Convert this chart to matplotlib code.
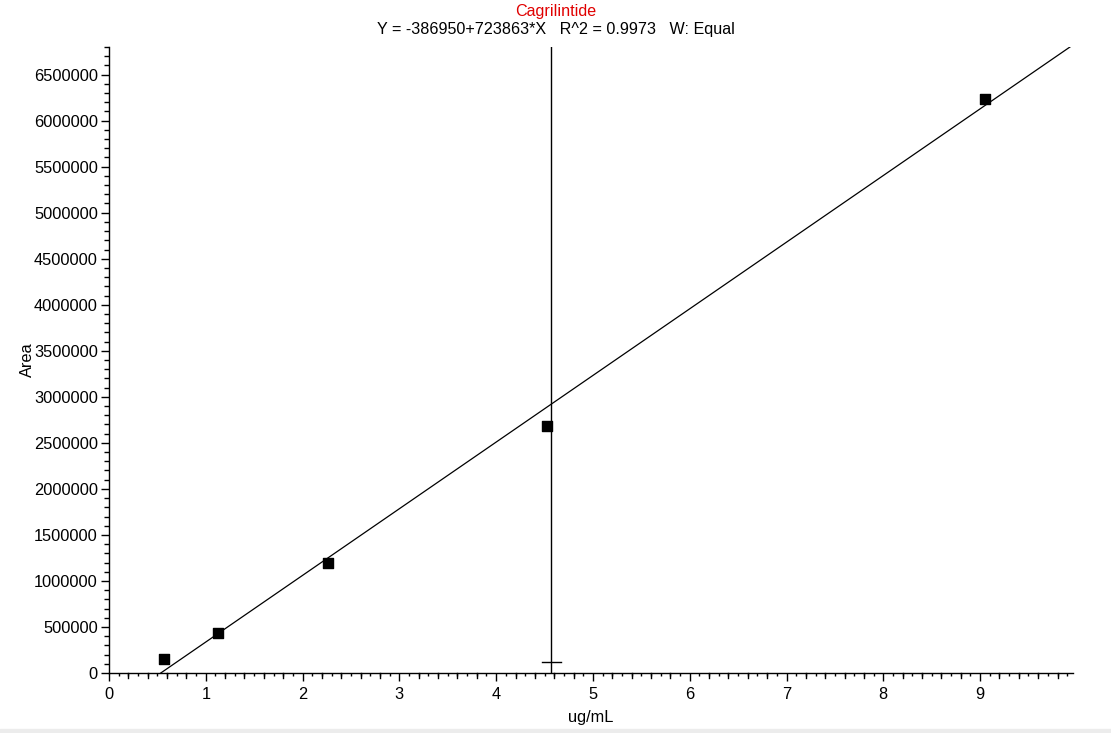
import matplotlib
matplotlib.use("Agg")
import matplotlib.pyplot as plt
import numpy as np
from matplotlib.ticker import MultipleLocator
from matplotlib.patches import Rectangle

plt.rcParams['font.family'] = ['Liberation Sans', 'DejaVu Sans']

# Calibration data
conc = [0.566, 1.13, 2.26, 4.53, 9.05]          # ug/mL
area = [152000, 434000, 1194000, 2680000, 6240000]

# Fit reported on the chart
intercept = -386950
slope = 723863
r2 = 0.9973

# Cursor position
cursor_x = 4.57
cursor_y = 119000

xmax = 9.96
ymax = 6.8e6

fig = plt.figure(figsize=(11.11, 7.33), dpi=100)
ax = fig.add_axes([0.0981, 0.0818, 0.8677, 0.8541])

# Regression line from the zero crossing to the right edge
x0 = -intercept / slope
xl = np.array([x0, xmax])
ax.plot(xl, intercept + slope * xl, color="black", lw=0.9)

# Standards
ax.scatter(conc, area, marker="s", s=55, color="black", zorder=3)

# Cursor: vertical line and small crosshair
ax.plot([cursor_x, cursor_x], [0, ymax], color="black", lw=1)
ax.plot([cursor_x - 0.1, cursor_x + 0.1], [cursor_y, cursor_y], color="black", lw=1)

ax.set_xlim(0, xmax)
ax.set_ylim(0, ymax)

for s in ["top", "right"]:
    ax.spines[s].set_visible(False)
for s in ["left", "bottom"]:
    ax.spines[s].set_linewidth(1)

ax.xaxis.set_major_locator(MultipleLocator(1))
ax.xaxis.set_minor_locator(MultipleLocator(0.1))
ax.yaxis.set_major_locator(MultipleLocator(500000))
ax.yaxis.set_minor_locator(MultipleLocator(100000))
ax.yaxis.set_major_formatter(matplotlib.ticker.FuncFormatter(lambda v, p: "%d" % v))

ax.tick_params(axis="both", which="major", length=6, width=1, labelsize=11.8, pad=2)
ax.tick_params(axis="x", which="major", pad=4)
ax.tick_params(axis="x", which="minor", length=2.5, width=1)
ax.tick_params(axis="y", which="minor", length=3.5, width=1)

# medium ticks every 0.2 on x
for xv in np.arange(0.2, xmax, 0.2):
    if abs(xv - round(xv)) > 1e-6:
        ax.plot([xv, xv], [0, -0.0075], transform=ax.get_xaxis_transform(),
                color="black", lw=1, clip_on=False)

ax.set_xlabel("ug/mL", fontsize=11.8, labelpad=6)
ax.set_ylabel("Area", fontsize=11.8, labelpad=-1)

fig.text(0.5, 0.994, "Cagrilintide", color="#e00000", fontsize=11.6, ha="center", va="top")
fig.text(0.5, 0.970, "Y = %d+%d*X   R^2 = %.4f   W: Equal" % (intercept, slope, r2),
         color="black", fontsize=11.6, ha="center", va="top")

fig.patches.append(Rectangle((0, 0), 1, 0.005, transform=fig.transFigure,
                             color="#ececec", zorder=0))

fig.savefig("out.png", dpi=100)
